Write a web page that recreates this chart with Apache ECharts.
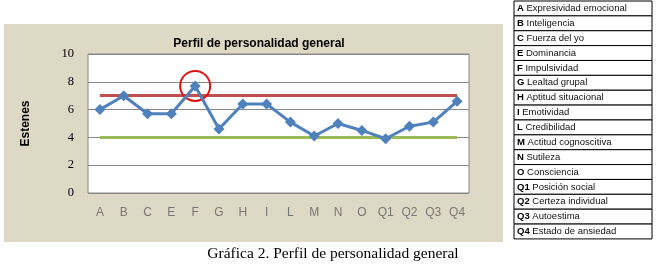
<!DOCTYPE html>
<html>
<head>
<meta charset="utf-8">
<script src="https://cdn.jsdelivr.net/npm/echarts@6/dist/echarts.min.js"></script>
<style>
html,body{margin:0;padding:0;background:#fff;}
#c{width:657px;height:264px;}
</style>
</head>
<body>
<div id="c"></div>
<script>
const categories = ['A','B','C','E','F','G','H','I','L','M','N','O','Q1','Q2','Q3','Q4'];
const estenes = [6.0,7.0,5.7,5.7,7.7,4.6,6.4,6.4,5.1,4.1,5.0,4.5,3.9,4.8,5.1,6.6];
const upperLimit = 7;
const lowerLimit = 4;
const highlighted = 'F';
const yTicks = {min:0, max:10, interval:2};
const tableCodes = ['A','B','C','E','F','G','H','I','L','M','N','O','Q1','Q2','Q3','Q4'];
const tableNames = ['Expresividad emocional','Inteligencia','Fuerza del yo','Dominancia','Impulsividad','Lealtad grupal','Aptitud situacional','Emotividad','Credibilidad','Actitud cognoscitiva','Sutileza','Consciencia','Posición social','Certeza individual','Autoestima','Estado de ansiedad'];
const chartTitle = 'Perfil de personalidad general';
const caption = 'Gráfica 2. Perfil de personalidad general';
const yName = 'Estenes';

const chart = echarts.init(document.getElementById('c'), null, {renderer:'canvas'});

const tblX = 514, tblW = 138, tblTop = 1, rowH = 14.87;
const graphics = [
  {type:'rect', z:-10, shape:{x:4,y:24,width:499,height:218}, style:{fill:'#DDD9C4'}, silent:true}
];
tableCodes.forEach((code,i)=>{
  graphics.push({type:'rect', shape:{x:tblX, y:tblTop+i*rowH, width:tblW, height:rowH},
    style:{fill:'#fff', stroke:'#000', lineWidth:1}});
  graphics.push({type:'text', x:tblX+3, y:tblTop+i*rowH+rowH/2,
    style:{text:'{b|'+code+'} '+tableNames[i], verticalAlign:'middle', font:'9.5px Arial', fill:'#111',
      rich:{b:{fontWeight:'bold', fontSize:9.5, fontFamily:'Arial', fill:'#000'}}}});
});

chart.setOption({
  animation:false,
  backgroundColor:'#fff',
  title:[
    {text:chartTitle, left:254, top:33, textAlign:'center',
      textStyle:{fontFamily:'Arial', fontSize:12, fontWeight:'bold', color:'#000'}},
    {text:caption, left:328, top:241, textAlign:'center',
      textStyle:{fontFamily:'Liberation Serif', fontSize:15.5, fontWeight:'normal', color:'#000'}}
  ],
  grid:{left:88, top:54, width:381, height:139, show:true, backgroundColor:'#fff', borderColor:'#888', borderWidth:1},
  xAxis:{type:'category', data:categories, boundaryGap:true,
    axisLine:{show:false}, axisTick:{show:false},
    axisLabel:{color:'#777', fontFamily:'Arial', fontSize:12, margin:14}},
  yAxis:{type:'value', min:yTicks.min, max:yTicks.max, interval:yTicks.interval,
    name:yName, nameLocation:'middle', nameRotate:90, nameGap:56,
    nameTextStyle:{fontFamily:'Arial', fontSize:12, fontWeight:'bold', color:'#000'},
    axisLine:{show:false}, axisTick:{show:false},
    axisLabel:{fontFamily:'Liberation Serif', fontSize:12.5, color:'#000', margin:14},
    splitLine:{lineStyle:{color:'#888', width:1}}},
  series:[{
    type:'line', data:estenes, symbol:'diamond', symbolSize:11,
    lineStyle:{color:'#4F81BD', width:3}, itemStyle:{color:'#4F81BD'}, z:5,
    markLine:{silent:true, symbol:'none', label:{show:false}, z:3,
      data:[
        [{coord:[categories[0],upperLimit], lineStyle:{color:'#C0504D', width:3, type:'solid'}},{coord:[categories[categories.length-1],upperLimit]}],
        [{coord:[categories[0],lowerLimit], lineStyle:{color:'#9BBB59', width:3, type:'solid'}},{coord:[categories[categories.length-1],lowerLimit]}]
      ]},
    markPoint:{silent:true, symbol:'circle', symbolSize:30, label:{show:false},
      itemStyle:{color:'rgba(0,0,0,0)', borderColor:'#E01010', borderWidth:2},
      data:[{coord:[highlighted, estenes[categories.indexOf(highlighted)]]}]}
  }],
  graphic:graphics
});
</script>
</body>
</html>
